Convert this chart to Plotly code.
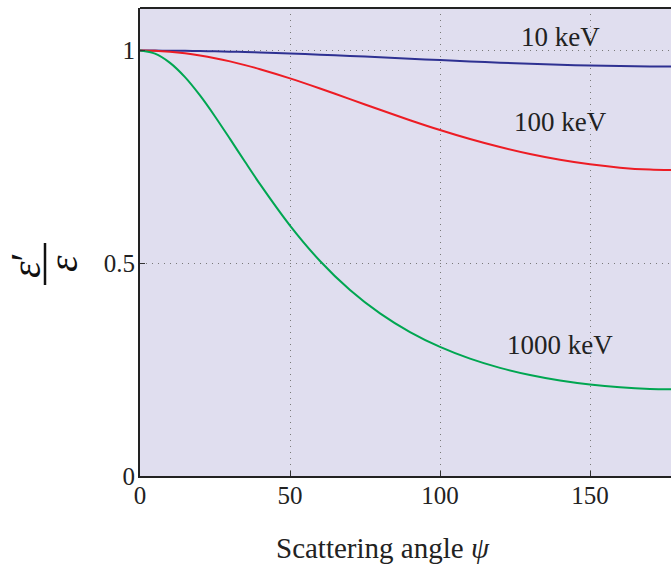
import plotly.graph_objects as go

psi = [0, 5, 10, 15, 20, 25, 30, 35, 40, 50, 60, 70, 80, 90, 100, 110, 120, 130, 140, 150, 160, 170, 180]
ratio_10kev = [1.0, 0.9999, 0.9997, 0.9993, 0.9988, 0.9982, 0.9974, 0.9965, 0.9954, 0.9931, 0.9903,
               0.9873, 0.9841, 0.9808, 0.9776, 0.9744, 0.9715, 0.9689, 0.9666, 0.9647, 0.9634,
               0.9626, 0.9623]
ratio_100kev = [1.0, 0.9993, 0.9970, 0.9934, 0.9883, 0.9820, 0.9745, 0.9658, 0.9562, 0.9347, 0.9109,
                0.8859, 0.8608, 0.8363, 0.8132, 0.7920, 0.7731, 0.7567, 0.7432, 0.7325, 0.7248,
                0.7202, 0.7187]
ratio_1000kev = [1.0, 0.9926, 0.9711, 0.9375, 0.8944, 0.8451, 0.7923, 0.7386, 0.6859, 0.5886, 0.5054,
                 0.4371, 0.3821, 0.3382, 0.3033, 0.2758, 0.2541, 0.2373, 0.2244, 0.2150, 0.2085,
                 0.2047, 0.2035]
series_names = ["10 keV", "100 keV", "1000 keV"]
x_ticks = [0, 50, 100, 150]
y_ticks = [0, 0.5, 1]
y_tick_text = ["0", "0.5", "1"]

colors = ["#2E3192", "#ED1C24", "#00A651"]
FONT = "Liberation Serif"

W, H = 671, 564
pl, pr, pt, pb = 140, 0, 8, 88
pw, ph = W - pl - pr, H - pt - pb


def px2paper(px, py):
    return (px - pl) / pw, (H - pb - py) / ph


fig = go.Figure()
for name, vals, c in zip(series_names, [ratio_10kev, ratio_100kev, ratio_1000kev], colors):
    fig.add_trace(go.Scatter(x=psi, y=vals, mode="lines", name=name,
                             line=dict(color=c, width=2, shape="spline", smoothing=0.8),
                             showlegend=False))

label_pos = [(140, 1.031), (140, 0.831), (140, 0.308)]
for name, (lx, ly) in zip(series_names, label_pos):
    fig.add_annotation(x=lx, y=ly, xref="x", yref="y", text=name, showarrow=False,
                       font=dict(family=FONT, size=27, color="#222222"))

ax, ay = px2paper(383, 548)
fig.add_annotation(x=ax, y=ay, xref="paper", yref="paper", text="Scattering angle <i>ψ</i>",
                   xanchor="center", yanchor="middle",
                   showarrow=False, font=dict(family=FONT, size=29, color="#222222"))

# y-axis label as rotated fraction
nx, ny = px2paper(26, 265)
dx, dy = px2paper(63, 264)
fig.add_annotation(x=nx, y=ny, xref="paper", yref="paper", text="<i>ε</i>′", textangle=-90,
                   xanchor="center", yanchor="middle",
                   showarrow=False, font=dict(family=FONT, size=42, color="#111"))
fig.add_annotation(x=dx, y=dy, xref="paper", yref="paper", text="<i>ε</i>", textangle=-90,
                   xanchor="center", yanchor="middle",
                   showarrow=False, font=dict(family=FONT, size=42, color="#111"))
bx, by0 = px2paper(45, 243)
_, by1 = px2paper(45, 285)
fig.add_shape(type="line", xref="paper", yref="paper", x0=bx, x1=bx, y0=by0, y1=by1,
              line=dict(color="#111", width=2.5))
fig.add_shape(type="line", xref="paper", yref="paper", x0=0, x1=1, y0=1, y1=1,
              line=dict(color="#222", width=2))

grid = dict(showgrid=True, gridcolor="#7a7a7a", griddash="1px,5px", gridwidth=1)
fig.update_layout(
    width=W, height=H,
    margin=dict(l=pl, r=pr, t=pt, b=pb),
    paper_bgcolor="white",
    plot_bgcolor="#E0DEEF",
    xaxis=dict(range=[0, 177], tickvals=x_ticks, ticks="inside", ticklen=5, tickcolor="#333",
               ticklabelstandoff=-4,
               showline=True, linecolor="#222", linewidth=2, zeroline=False,
               tickfont=dict(family=FONT, size=25, color="#222"), **grid),
    yaxis=dict(range=[0, 1.1], tickvals=y_ticks, ticktext=y_tick_text, ticks="inside",
               ticklen=5, tickcolor="#333", ticklabelstandoff=-2,
               showline=True, linecolor="#222", linewidth=2, zeroline=False,
               tickfont=dict(family=FONT, size=25, color="#222"), **grid),
)

fig.write_html("out.html")
